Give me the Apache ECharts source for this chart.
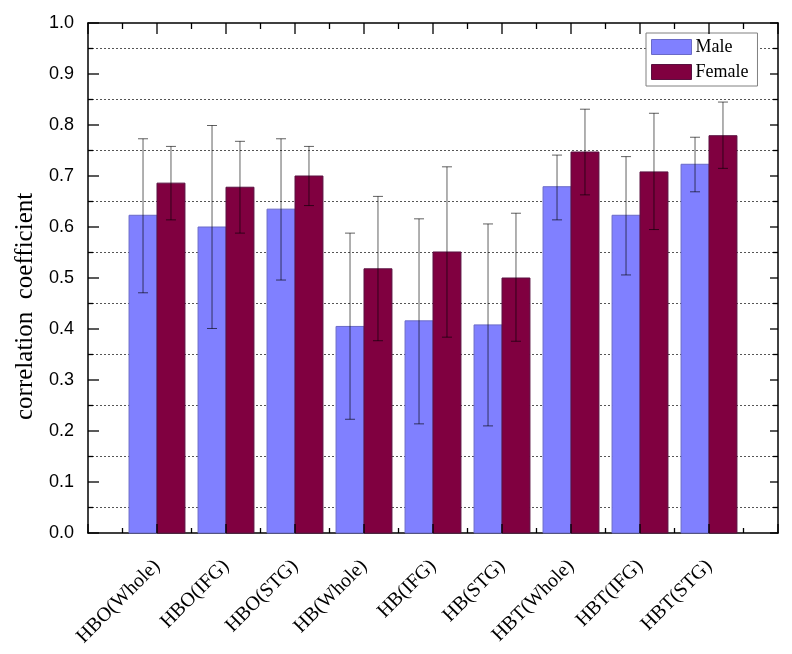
<!DOCTYPE html>
<html>
<head>
<meta charset="utf-8">
<script src="https://cdn.jsdelivr.net/npm/echarts@6/dist/echarts.min.js"></script>
<style>
html,body{margin:0;padding:0;background:#fff;}
#chart{width:792px;height:654px;}
</style>
</head>
<body>
<div id="chart"></div>
<script>
var categories = ['HBO(Whole)','HBO(IFG)','HBO(STG)','HB(Whole)','HB(IFG)','HB(STG)','HBT(Whole)','HBT(IFG)','HBT(STG)'];
var male      = [0.623,0.600,0.635,0.405,0.416,0.408,0.679,0.623,0.723];
var maleHigh  = [0.773,0.799,0.773,0.588,0.616,0.606,0.741,0.738,0.776];
var maleLow   = [0.471,0.401,0.496,0.223,0.214,0.210,0.614,0.506,0.669];
var female    = [0.686,0.678,0.700,0.518,0.551,0.500,0.747,0.708,0.779];
var femaleHigh= [0.758,0.768,0.758,0.660,0.718,0.627,0.831,0.823,0.845];
var femaleLow = [0.614,0.588,0.642,0.377,0.384,0.376,0.663,0.595,0.715];
var yTicks      = [0.0,0.1,0.2,0.3,0.4,0.5,0.6,0.7,0.8,0.9,1.0];
var yMinorTicks = [0.05,0.15,0.25,0.35,0.45,0.55,0.65,0.75,0.85,0.95];
var xTicks      = [0,1,2,3,4,5,6,7,8,9,10];
var xMinorTicks = [0.5,1.5,2.5,3.5,4.5,5.5,6.5,7.5,8.5,9.5];

var BAR_W = 0.405; // bar width in x-axis units
var maleColor = '#8080FF', femaleColor = '#800040';

function barData(vals, side){
  return vals.map(function(v,i){ return [i + 1 + side*BAR_W/2, v]; });
}
function errData(lo, hi, side){
  return lo.map(function(l,i){ return [i + 1 + side*BAR_W/2, l, hi[i]]; });
}
function barItem(params, api){
  var x = api.value(0), y = api.value(1);
  var p0 = api.coord([x - BAR_W/2, 0]);
  var p1 = api.coord([x + BAR_W/2, y]);
  return {
    type:'rect',
    shape:{x:p0[0], y:p1[1], width:p1[0]-p0[0], height:p0[1]-p1[1]},
    style: api.style()
  };
}
function errItem(params, api){
  var x = api.value(0);
  var lo = api.coord([x, api.value(1)]);
  var hi = api.coord([x, api.value(2)]);
  var c = 5;
  var st = {stroke:'rgba(0,0,0,0.62)', lineWidth:1};
  return {type:'group', children:[
    {type:'line', shape:{x1:lo[0],y1:lo[1],x2:hi[0],y2:hi[1]}, style:st},
    {type:'line', shape:{x1:hi[0]-c,y1:hi[1],x2:hi[0]+c,y2:hi[1]}, style:st},
    {type:'line', shape:{x1:lo[0]-c,y1:lo[1],x2:lo[0]+c,y2:lo[1]}, style:st}
  ]};
}
// frame ticks (inside, on all four sides) placed through the axes' scales
var tickData = []
  .concat(xTicks.map(function(v){ return [0, v, 1]; }))
  .concat(xMinorTicks.map(function(v){ return [0, v, 0]; }))
  .concat(yTicks.map(function(v){ return [1, v, 1]; }))
  .concat(yMinorTicks.map(function(v){ return [1, v, 0]; }));
function tickItem(params, api){
  var axis = api.value(0), v = api.value(1), major = api.value(2) === 1;
  var st = {stroke:'#000', lineWidth:1.3};
  if (axis === 0) {
    var b = api.coord([v, 0]), t = api.coord([v, 1]);
    var lb = major ? 9 : 5, lt = major ? 11 : 6;
    return {type:'group', children:[
      {type:'line', shape:{x1:b[0],y1:b[1],x2:b[0],y2:b[1]-lb}, style:st},
      {type:'line', shape:{x1:t[0],y1:t[1],x2:t[0],y2:t[1]+lt}, style:st}
    ]};
  } else {
    var l = api.coord([0, v]), r = api.coord([10, v]);
    var ll = major ? 11 : 5, lr = major ? 8 : 5;
    return {type:'group', children:[
      {type:'line', shape:{x1:l[0],y1:l[1],x2:l[0]+ll,y2:l[1]}, style:st},
      {type:'line', shape:{x1:r[0],y1:r[1],x2:r[0]-lr,y2:r[1]}, style:st}
    ]};
  }
}
function line(){ return {show:true, onZero:false, lineStyle:{color:'#000', width:1.5}}; }

var chart = echarts.init(document.getElementById('chart'), null, {renderer:'canvas'});
var option = {
  animation:false,
  backgroundColor:'#fff',
  grid:{left:88, right:14, top:23, bottom:121},
  legend:{
    orient:'vertical', left:646, top:33,
    itemWidth:40, itemHeight:15, itemGap:7,
    padding:[5,9,5,5],
    borderColor:'#808080', borderWidth:1, backgroundColor:'#fff',
    icon:'rect',
    textStyle:{fontFamily:'Liberation Serif', fontSize:18, color:'#000', lineHeight:15, padding:[0,0,0,-1]},
    data:[{name:'Male', itemStyle:{color:maleColor, borderColor:'#6a6ac8', borderWidth:1}},
          {name:'Female', itemStyle:{color:femaleColor, borderColor:'#5a1040', borderWidth:1}}]
  },
  xAxis:[{
    type:'value', min:0, max:10, interval:1, position:'bottom',
    axisLine:line(), axisTick:{show:false}, minorTick:{show:false},
    splitLine:{show:false},
    axisLabel:{
      show:true, rotate:45, margin:30,
      fontFamily:'Liberation Serif', fontSize:20, color:'#000',
      formatter:function(v){ var k = Math.round(v); return (k>=1 && k<=categories.length) ? categories[k-1] : ''; }
    }
  },{
    type:'value', min:0, max:10, interval:1, position:'top',
    axisLine:line(), axisTick:{show:false}, minorTick:{show:false},
    splitLine:{show:false}, axisLabel:{show:false}
  }],
  yAxis:[{
    type:'value', min:0, max:1, interval:0.1, position:'left',
    axisLine:line(), axisTick:{show:false},
    minorTick:{show:false, splitNumber:2},
    splitLine:{show:false},
    minorSplitLine:{show:true, lineStyle:{color:'#555', width:1, type:[2,2]}},
    axisLabel:{
      margin:14, fontFamily:'Liberation Sans', fontSize:18, color:'#000',
      formatter:function(v){ var k = Math.round(v*10); return yTicks[k] !== undefined ? yTicks[k].toFixed(1) : ''; }
    }
  },{
    type:'value', min:0, max:1, interval:0.1, position:'right',
    axisLine:line(), axisTick:{show:false}, minorTick:{show:false},
    splitLine:{show:false}, axisLabel:{show:false}
  }],
  graphic:[{
    type:'text',
    style:{text:'correlation  coefficient', fontFamily:'Liberation Serif', fontSize:25, fill:'#000'},
    rotation:Math.PI/2,
    x:13, y:420
  }],
  series:[
    {name:'Male', type:'custom', renderItem:barItem, xAxisIndex:0, yAxisIndex:0,
     itemStyle:{color:maleColor, borderColor:'#6a6ac8', borderWidth:1},
     data:barData(male,-1), z:2},
    {name:'Female', type:'custom', renderItem:barItem, xAxisIndex:0, yAxisIndex:0,
     itemStyle:{color:femaleColor, borderColor:'#5a1040', borderWidth:1},
     data:barData(female,1), z:2},
    {name:'maleErr', type:'custom', renderItem:errItem, xAxisIndex:0, yAxisIndex:0, data:errData(maleLow,maleHigh,-1), z:3},
    {name:'femaleErr', type:'custom', renderItem:errItem, xAxisIndex:0, yAxisIndex:0, data:errData(femaleLow,femaleHigh,1), z:3},
    {name:'frameTicks', type:'custom', renderItem:tickItem, xAxisIndex:0, yAxisIndex:0, data:tickData, z:4, silent:true}
  ]
};
chart.setOption(option);
</script>
</body>
</html>
